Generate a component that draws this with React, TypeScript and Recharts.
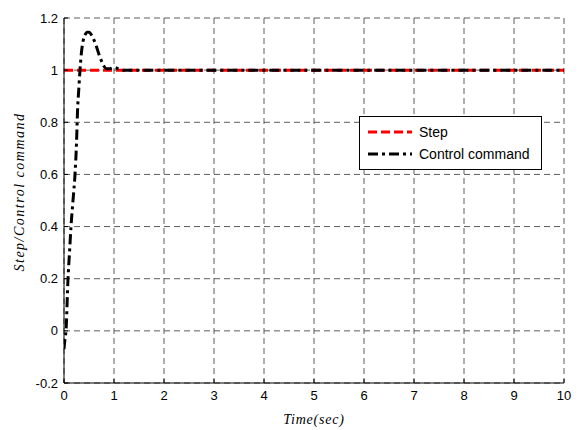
import React from 'react';
import { LineChart, Line, XAxis, YAxis, CartesianGrid, Label } from 'recharts';

// time axis (sec) and responses
const stepTime = [0, 10];
const stepValue = [1, 1];

const cmdTime = [
  0, 0.02, 0.04, 0.08, 0.11, 0.14, 0.18, 0.22, 0.25, 0.27, 0.3, 0.32, 0.35, 0.38, 0.42, 0.46, 0.5,
  0.55, 0.6, 0.65, 0.7, 0.75, 0.8, 0.85, 0.9, 1.0, 1.1, 1.2, 1.5, 2, 3, 4, 5, 6, 7, 8, 9, 10,
];
const cmdValue = [
  -0.07, -0.03, 0.0, 0.2, 0.3, 0.4, 0.5, 0.6, 0.72, 0.84, 0.94, 1.0, 1.07, 1.11, 1.135, 1.145, 1.145,
  1.135, 1.115, 1.09, 1.06, 1.035, 1.015, 1.005, 1.005, 1.01, 1.005, 1.0, 1.0, 1, 1, 1, 1, 1, 1, 1, 1, 1,
];

const xTicks = [0, 1, 2, 3, 4, 5, 6, 7, 8, 9, 10];
const yTicks = [-0.2, 0, 0.2, 0.4, 0.6, 0.8, 1, 1.2];

const stepData = stepTime.map((t, i) => ({ t, v: stepValue[i] }));
const cmdData = cmdTime.map((t, i) => ({ t, v: cmdValue[i] }));

const STEP_DASH = '9 4';
const CMD_DASH = '10 4 3 4';
const tickFont = { fontFamily: 'Liberation Sans, Arial, sans-serif', fontSize: 13, fill: '#000' };

const legendItems = [
  { name: 'Step', color: '#ff0000', dash: STEP_DASH },
  { name: 'Control command', color: '#000', dash: CMD_DASH },
];

const LegendBox = () => (
  <div
    style={{
      position: 'absolute',
      left: 359,
      top: 116,
      border: '1px solid #000',
      background: '#fff',
      width: 183,
      height: 54,
      boxSizing: 'border-box',
      fontFamily: 'Liberation Sans, Arial, sans-serif',
      fontSize: 14,
      color: '#000',
    }}
  >
    {legendItems.map((it, i) => (
      <div key={it.name} style={{ display: 'flex', alignItems: 'center', height: 22, marginTop: i === 0 ? 4 : 0 }}>
        <svg width={51} height={10} style={{ marginLeft: 8 }}>
          <line x1={0} y1={5} x2={44} y2={5} stroke={it.color} strokeWidth={3} strokeDasharray={it.dash} />
        </svg>
        <span>{it.name}</span>
      </div>
    ))}
  </div>
);

export default function App() {
  return (
    <div style={{ position: 'absolute', left: 0, top: 0, width: 581, height: 430, background: '#fff' }}>
      <LineChart width={581} height={430} margin={{ top: 18, right: 17, bottom: 17, left: 24 }}>
        <CartesianGrid stroke="#333" strokeDasharray="6 4" strokeWidth={0.8} />
        <XAxis
          type="number"
          dataKey="t"
          domain={[0, 10]}
          ticks={xTicks}
          allowDataOverflow
          height={30}
          stroke="#000"
          tickSize={-4}
          tickMargin={12}
          tick={tickFont}
        >
          <Label
            content={({ viewBox }: any) => (
              <text
                x={viewBox.x + viewBox.width / 2}
                y={viewBox.y + 41}
                textAnchor="middle"
                fontFamily="Liberation Serif, Times New Roman, serif"
                fontStyle="italic"
                fontSize={14}
                letterSpacing={0.8}
              >
                Time(sec)
              </text>
            )}
          />
        </XAxis>
        <YAxis
          type="number"
          domain={[-0.2, 1.2]}
          ticks={yTicks}
          allowDataOverflow
          width={40}
          stroke="#000"
          tickSize={-4}
          tickMargin={10}
          tick={tickFont}
        >
          <Label
            content={({ viewBox }: any) => {
              const cx = 24;
              const cy = 192;
              return (
                <text
                  x={cx}
                  y={cy}
                  transform={`rotate(-90 ${cx} ${cy})`}
                  textAnchor="middle"
                  fontFamily="Liberation Serif, Times New Roman, serif"
                  fontStyle="italic"
                  fontSize={14}
                  letterSpacing={1.5}
                >
                  Step/Control command
                </text>
              );
            }}
          />
        </YAxis>
        <Line
          data={stepData}
          dataKey="v"
          name="Step"
          stroke="#ff0000"
          strokeWidth={3}
          strokeDasharray={STEP_DASH}
          dot={false}
          isAnimationActive={false}
        />
        <Line
          data={cmdData}
          dataKey="v"
          name="Control command"
          stroke="#000"
          strokeWidth={3}
          strokeDasharray={CMD_DASH}
          dot={false}
          type="monotone"
          isAnimationActive={false}
        />
      </LineChart>
      <LegendBox />
    </div>
  );
}
